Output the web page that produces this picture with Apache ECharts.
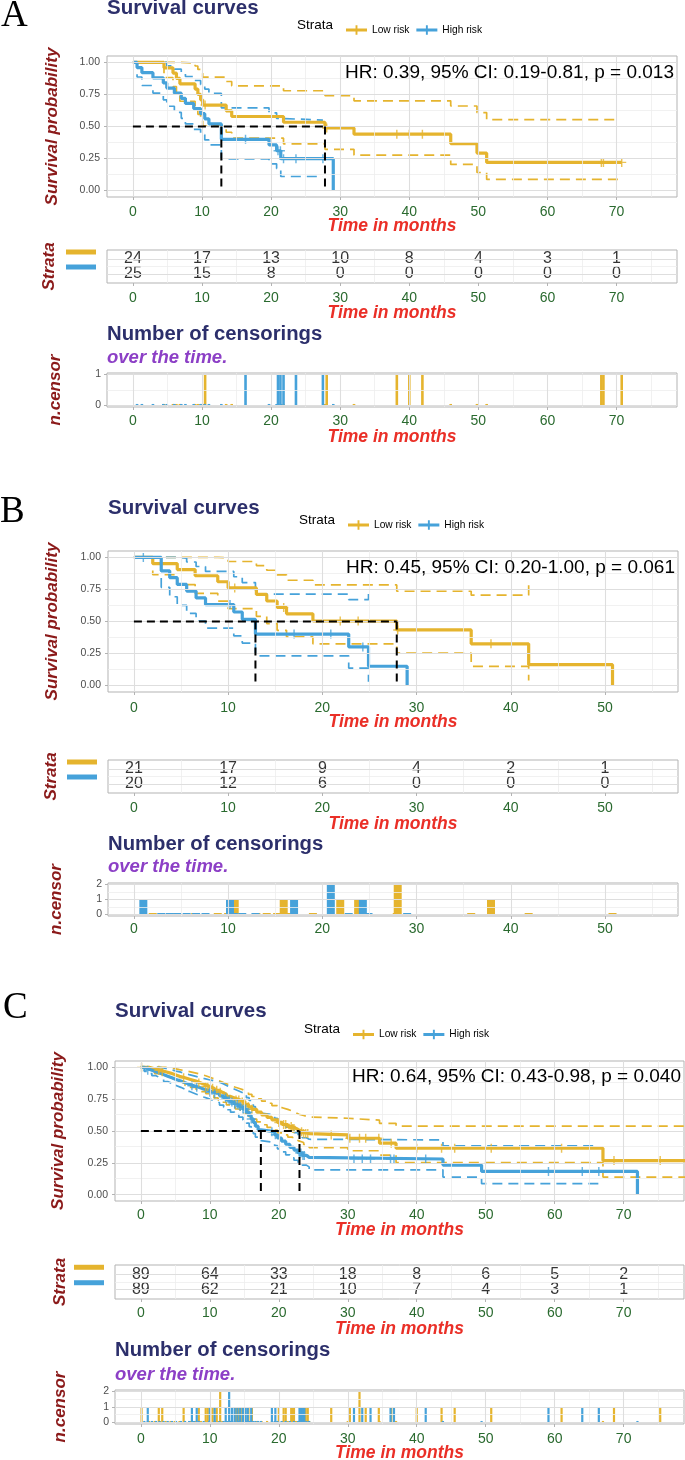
<!DOCTYPE html>
<html><head><meta charset="utf-8">
<script src="https://cdn.jsdelivr.net/npm/echarts@6/dist/echarts.min.js"></script>
<style>html,body{margin:0;padding:0;background:#fff}#c{width:685px;height:1460px}</style>
</head><body><div id="c"></div>
<script>
// ===================== DATA =====================
// Panel A
const A_xTicks = [0,10,20,30,40,50,60,70];
const A_lowSurv  = [[0,1],[4.5,0.958],[5.8,0.917],[6.3,0.875],[6.8,0.833],[9.0,0.792],[9.4,0.75],[9.8,0.708],[10.1,0.667],[13.5,0.622],[14.3,0.578],[21.8,0.533],[27.8,0.489],[32,0.44],[46,0.367],[49.8,0.293],[51.2,0.22],[70.75,0.22]];
const A_lowUpper = [[0,1],[6.8,0.996],[9.0,0.972],[9.4,0.945],[9.8,0.915],[10.1,0.885],[13.5,0.851],[14.3,0.817],[21.8,0.779],[27.8,0.741],[32,0.70],[46,0.66],[49.8,0.609],[51.2,0.554],[70.2,0.554]];
const A_lowLower = [[0,1],[4.5,0.881],[5.8,0.812],[6.3,0.752],[6.8,0.697],[9.0,0.645],[9.4,0.595],[9.8,0.548],[10.1,0.503],[13.5,0.455],[14.3,0.409],[21.8,0.365],[27.8,0.322],[32,0.277],[46,0.204],[49.8,0.141],[51.2,0.087],[70.2,0.087]];
const A_highSurv  = [[0,1],[0.6,0.96],[1.3,0.92],[2.9,0.88],[4.4,0.84],[4.9,0.80],[6.0,0.76],[7.0,0.72],[7.6,0.68],[8.8,0.64],[9.8,0.60],[10.4,0.56],[11.0,0.52],[12.8,0.40],[19.7,0.356],[20.8,0.311],[21.4,0.249],[29,0]];
const A_highUpper = [[0,1],[4.9,0.973],[6.0,0.947],[7.0,0.919],[7.6,0.89],[8.8,0.859],[9.8,0.827],[10.4,0.792],[11.0,0.758],[12.8,0.646],[19.7,0.607],[20.8,0.563],[21.4,0.55],[27.5,0.55]];
const A_highLower = [[0,1],[0.6,0.886],[1.3,0.82],[2.9,0.761],[4.4,0.708],[4.9,0.658],[6.0,0.61],[7.0,0.564],[7.6,0.52],[8.8,0.477],[9.8,0.436],[10.4,0.395],[11.0,0.357],[12.8,0.248],[19.7,0.209],[20.8,0.172],[21.4,0.11],[27.5,0.11]];
const A_lowCens  = [[10.45,1],[28.05,1],[38.2,1],[40.0,1],[41.9,1],[67.8,1],[68.1,1],[70.75,1]];
const A_highCens = [[16.3,1],[21.0,1],[21.35,1],[21.8,1],[23.6,1],[27.5,1]];
const A_medians  = [27.8, 12.8];
const A_riskLow  = [24,17,13,10,8,4,3,1];
const A_riskHigh = [25,15,8,0,0,0,0,0];
const A_censTicks = [0,1];
const A_hr = 'HR: 0.39, 95% CI: 0.19-0.81, p = 0.013';

// Panel B
const B_xTicks = [0,10,20,30,40,50];
const B_lowSurv  = [[0,1],[2.0,0.952],[4.6,0.905],[6.5,0.857],[8.9,0.81],[10.0,0.762],[13.0,0.711],[14.1,0.66],[15.2,0.61],[16.2,0.56],[19.0,0.504],[27.9,0.434],[35.8,0.326],[41.9,0.163],[50.8,0]];
const B_lowUpper = [[0,1],[8.9,0.996],[10.0,0.968],[13.0,0.936],[14.1,0.90],[15.2,0.864],[16.2,0.822],[19.0,0.785],[27.9,0.736],[35.8,0.705],[41.9,0.795]];
const B_lowLower = [[0,1],[2.0,0.865],[4.6,0.788],[6.5,0.72],[8.9,0.659],[10.0,0.60],[13.0,0.54],[14.1,0.484],[15.2,0.431],[16.2,0.38],[19.0,0.326],[27.9,0.253],[35.8,0.15],[41.9,0.04]];
const B_highSurv  = [[0,1],[2.9,0.895],[3.8,0.842],[4.6,0.789],[5.6,0.737],[6.6,0.684],[7.6,0.632],[10.6,0.574],[11.5,0.517],[12.9,0.402],[22.8,0.302],[24.9,0.151],[29.0,0]];
const B_highUpper = [[0,1],[4.6,0.995],[5.6,0.964],[6.6,0.929],[7.6,0.891],[10.6,0.849],[11.5,0.804],[12.9,0.713],[22.8,0.67],[24.9,0.745]];
const B_highLower = [[0,1],[2.9,0.767],[3.8,0.693],[4.6,0.626],[5.6,0.563],[6.6,0.504],[7.6,0.448],[10.6,0.388],[11.5,0.332],[12.9,0.232],[22.8,0.137],[24.9,0.03]];
const B_lowCens  = [[10.7,1],[15.9,1],[21.9,1],[23.8,1],[28.0,2],[37.9,1]];
const B_highCens = [[1.0,1],[10.2,1],[17.0,1],[20.9,2],[24.3,1]];
const B_medians  = [27.9, 12.9];
const B_riskLow  = [21,17,9,4,2,1];
const B_riskHigh = [20,12,6,0,0,0];
const B_censTicks = [0,1,2];
const B_hr = 'HR: 0.45, 95% CI: 0.20-1.00, p = 0.061';

// Panel C
const C_xTicks = [0,10,20,30,40,50,60,70];
const C_lowSurv  = [[0,1],[1.2,0.989],[2.0,0.978],[2.8,0.966],[3.6,0.955],[4.3,0.943],[4.9,0.93],[5.6,0.918],[6.4,0.905],[7.2,0.892],[8.0,0.878],[8.7,0.864],[9.4,0.85],[10.0,0.836],[10.6,0.82],[11.2,0.805],[11.8,0.79],[12.4,0.772],[13.0,0.758],[13.7,0.743],[14.4,0.728],[15.0,0.71],[15.6,0.69],[16.1,0.67],[16.8,0.648],[17.5,0.627],[18.3,0.607],[19.0,0.587],[19.8,0.567],[20.5,0.551],[21.3,0.535],[22.0,0.52],[22.5,0.507],[22.9,0.495],[23.6,0.48],[24.4,0.469],[30.0,0.443],[34.6,0.404],[37.0,0.365],[67.0,0.268],[80,0.268]];
const C_lowUpper = [[0,1],[2.8,1.0],[3.6,0.995],[4.3,0.99],[4.9,0.982],[5.6,0.974],[6.4,0.965],[7.2,0.955],[8.0,0.945],[8.7,0.934],[9.4,0.922],[10.0,0.91],[10.6,0.897],[11.2,0.884],[11.8,0.871],[12.4,0.856],[13.0,0.844],[13.7,0.832],[14.4,0.82],[15.0,0.805],[15.6,0.788],[16.1,0.771],[16.8,0.752],[17.5,0.735],[18.3,0.718],[19.0,0.70],[19.8,0.683],[20.5,0.67],[21.3,0.657],[22.0,0.643],[22.5,0.632],[22.9,0.622],[23.6,0.61],[24.4,0.60],[30.0,0.585],[34.6,0.56],[37.0,0.539],[80,0.539]];
const C_lowLower = [[0,1],[1.2,0.968],[2.0,0.951],[2.8,0.935],[3.6,0.92],[4.3,0.905],[4.9,0.889],[5.6,0.874],[6.4,0.858],[7.2,0.842],[8.0,0.826],[8.7,0.81],[9.4,0.794],[10.0,0.778],[10.6,0.76],[11.2,0.743],[11.8,0.726],[12.4,0.706],[13.0,0.69],[13.7,0.673],[14.4,0.656],[15.0,0.636],[15.6,0.615],[16.1,0.594],[16.8,0.571],[17.5,0.549],[18.3,0.528],[19.0,0.507],[19.8,0.486],[20.5,0.469],[21.3,0.452],[22.0,0.436],[22.5,0.422],[22.9,0.41],[23.6,0.394],[24.4,0.37],[30.0,0.345],[34.6,0.31],[37.0,0.252],[67.0,0.138],[80,0.138]];
const C_highSurv  = [[0,1],[0.5,0.989],[1.0,0.978],[1.6,0.966],[2.2,0.955],[2.7,0.943],[3.3,0.93],[3.9,0.918],[4.5,0.905],[5.1,0.893],[5.8,0.88],[6.4,0.867],[7.0,0.855],[7.7,0.843],[8.4,0.83],[9.1,0.817],[9.9,0.805],[10.7,0.792],[11.4,0.776],[12.0,0.76],[12.5,0.743],[13.0,0.727],[13.6,0.71],[14.2,0.692],[14.8,0.672],[15.3,0.648],[15.7,0.622],[16.0,0.595],[16.3,0.567],[16.6,0.538],[17.0,0.51],[17.4,0.495],[19.4,0.47],[19.8,0.445],[20.4,0.42],[21.0,0.396],[21.6,0.372],[22.2,0.35],[22.8,0.328],[23.4,0.308],[24.0,0.293],[24.4,0.28],[43.8,0.232],[49.4,0.182],[72.0,0]];
const C_highUpper = [[0,1],[2.2,1.0],[2.7,0.995],[3.3,0.988],[3.9,0.98],[4.5,0.971],[5.1,0.962],[5.8,0.953],[6.4,0.943],[7.0,0.933],[7.7,0.923],[8.4,0.913],[9.1,0.903],[9.9,0.893],[10.7,0.883],[11.4,0.869],[12.0,0.856],[12.5,0.842],[13.0,0.828],[13.6,0.814],[14.2,0.799],[14.8,0.782],[15.3,0.762],[15.7,0.74],[16.0,0.717],[16.3,0.692],[16.6,0.667],[17.0,0.641],[17.4,0.627],[19.4,0.60],[19.8,0.577],[20.4,0.553],[21.0,0.53],[21.6,0.507],[22.2,0.487],[22.8,0.466],[23.4,0.447],[24.0,0.435],[24.4,0.43],[43.8,0.383],[66.3,0.383]];
const C_highLower = [[0,1],[0.5,0.968],[1.0,0.951],[1.6,0.935],[2.2,0.92],[2.7,0.905],[3.3,0.889],[3.9,0.874],[4.5,0.858],[5.1,0.843],[5.8,0.828],[6.4,0.812],[7.0,0.797],[7.7,0.782],[8.4,0.767],[9.1,0.752],[9.9,0.737],[10.7,0.722],[11.4,0.704],[12.0,0.686],[12.5,0.667],[13.0,0.648],[13.6,0.629],[14.2,0.609],[14.8,0.587],[15.3,0.562],[15.7,0.535],[16.0,0.508],[16.3,0.48],[16.6,0.452],[17.0,0.425],[17.4,0.41],[19.4,0.385],[19.8,0.36],[20.4,0.336],[21.0,0.313],[21.6,0.29],[22.2,0.27],[22.8,0.25],[23.4,0.232],[24.0,0.218],[24.4,0.195],[43.8,0.138],[49.4,0.086],[66.5,0.086]];
const C_lowCens  = [[0.1,1],[2.6,1],[3.1,1],[6.2,1],[8.4,1],[9.4,1],[9.7,1],[10.4,1],[11.0,1],[11.5,2],[13.8,1],[14.2,1],[14.7,1],[15.1,1],[15.6,1],[16.1,1],[20.0,1],[20.7,1],[21.0,1],[21.8,1],[22.0,1],[22.2,1],[23.3,1],[23.6,1],[23.9,1],[24.2,1],[27.6,1],[30.3,1],[31.7,2],[32.6,1],[34.5,1],[36.3,1],[40.0,1],[43.6,1],[45.5,1],[50.8,1],[61.0,1],[68.6,1],[75.3,1]];
const C_highCens = [[1.0,1],[7.4,1],[8.1,1],[10.0,1],[10.7,1],[12.3,1],[12.8,2],[13.2,1],[13.6,1],[14.0,1],[14.4,1],[14.8,1],[15.2,1],[15.5,1],[16.0,1],[19.0,1],[19.5,1],[23.0,1],[23.2,1],[23.5,1],[23.7,1],[30.9,1],[32.1,1],[33.3,1],[36.2,1],[36.7,1],[41.3,1],[59.1,1],[64.0,1],[66.4,1]];
const C_medians  = [23.0, 17.4];
const C_riskLow  = [89,64,33,18,8,6,5,2];
const C_riskHigh = [89,62,21,10,7,4,3,1];
const C_censTicks = [0,1,2];
const C_hr = 'HR: 0.64, 95% CI: 0.43-0.98, p = 0.040';

const SURV_Y_TICKS = [0,0.25,0.5,0.75,1];
const STRATA = ['Low risk','High risk'];

// ===================== STYLE / LAYOUT =====================
const FONT = '"Liberation Sans", Arial, sans-serif';
const SERIF = '"Liberation Serif", "Times New Roman", serif';
const YEL = '#E5B42E', BLU = '#46A2DA';
const NAVY = '#2c2f6b', DARKRED = '#8b1a1a', GREEN = '#2a6a2f', RED = '#ea2f27', PURPLE = '#8c3fc6', GRAYTXT = '#4d4d4d';
const BORDER = '#b3b3b3', GMAJ = '#dedede', GMIN = '#eeeeee';
const PLUS = 'path://M0,4.2H10V5.8H0Z M4.2,0H5.8V10H4.2Z';
const LEG_ICON = 'path://M0,3.5H22V6.5H0Z M10,0H12V10H10Z';

const PANELS = [
  {letter:'A', letterPos:[1,16], titleY:8.5, legend:[341,25], hrY:73, left:107, right:8,
   surv:[56,141], risk:[250,33], cens:[373,34], survLabM:8, riskLabM:8, censLabM:7,
   xt:[226,313,437], censTitle:[334,358], yt:[52,49,55], xMin:-3.75, xMax:78.75, barW:2.6,
   xTicks:A_xTicks, lowSurv:A_lowSurv, lowUp:A_lowUpper, lowLo:A_lowLower, highSurv:A_highSurv, highUp:A_highUpper, highLo:A_highLower,
   lowCens:A_lowCens, highCens:A_highCens, medians:A_medians, riskLow:A_riskLow, riskHigh:A_riskHigh, censTicks:A_censTicks, hr:A_hr},
  {letter:'B', letterPos:[0,512], titleY:508, legend:[343,520], hrY:568, left:108, right:7,
   surv:[551,141], risk:[760,33], cens:[883,33], survLabM:9, riskLabM:8, censLabM:6,
   xt:[722,824,null], censTitle:[844,867], yt:[52,51,56], xMin:-2.75, xMax:57.75, barW:8,
   xTicks:B_xTicks, lowSurv:B_lowSurv, lowUp:B_lowUpper, lowLo:B_lowLower, highSurv:B_highSurv, highUp:B_highUpper, highLo:B_highLower,
   lowCens:B_lowCens, highCens:B_highCens, medians:B_medians, riskLow:B_riskLow, riskHigh:B_riskHigh, censTicks:B_censTicks, hr:B_hr},
  {letter:'C', letterPos:[3,1008.5], titleY:1011, legend:[348,1029.5], hrY:1077, left:115, right:1,
   surv:[1061,140], risk:[1265,34], cens:[1390,34], survLabM:7, riskLabM:7, censLabM:8,
   xt:[1230,1329,1453], censTitle:[1350,1375], yt:[58,60,60], xMin:-3.75, xMax:78.75, barW:2.2,
   xTicks:C_xTicks, lowSurv:C_lowSurv, lowUp:C_lowUpper, lowLo:C_lowLower, highSurv:C_highSurv, highUp:C_highUpper, highLo:C_highLower,
   lowCens:C_lowCens, highCens:C_highCens, medians:C_medians, riskLow:C_riskLow, riskHigh:C_riskHigh, censTicks:C_censTicks, hr:C_hr}
];

function stepAt(arr, t){ let v = arr[0][1]; for (const p of arr){ if (p[0] <= t) v = p[1]; else break; } return v; }
function eventsOf(arr){ const r=[]; for(let i=1;i<arr.length;i++){ if(arr[i][1]!==arr[i-1][1]) r.push([arr[i][0],0]); } return r; }

const grids=[], xAxes=[], yAxes=[], series=[], graphics=[], legends=[];

function txt(text, x, y, font, color, align, rot){
  return {type:'text', x, y, rotation: rot||0, silent:true, z:10,
    style:{text, font, fill:color, align:align||'left', verticalAlign:'middle'}};
}

PANELS.forEach((P, pi) => {
  const g0 = pi*3;
  const mkGrid = (tb) => ({left:P.left, right:P.right, top:tb[0], height:tb[1], show:true,
    borderColor:BORDER, borderWidth:1, backgroundColor:'#fff', containLabel:false});
  grids.push(mkGrid(P.surv), mkGrid(P.risk), mkGrid(P.cens));
  const xMinor = P.xTicks.map(v=>v+5).filter(v=>v<P.xMax);

  const mkX = (gi, margin) => ({gridIndex:gi, type:'value', min:P.xMin, max:P.xMax,
    axisLine:{show:false, onZero:false},
    axisTick:{show:true, customValues:P.xTicks, length:3, lineStyle:{color:BORDER}},
    axisLabel:{customValues:P.xTicks, color:GREEN, fontSize:14, fontFamily:FONT, margin},
    splitLine:{show:false}});
  xAxes.push(mkX(g0, P.survLabM), mkX(g0+1, P.riskLabM), mkX(g0+2, P.censLabM));

  yAxes.push({gridIndex:g0, type:'value', min:-0.05, max:1.05,
    axisLine:{show:false, onZero:false},
    axisTick:{show:true, customValues:SURV_Y_TICKS, length:3, lineStyle:{color:BORDER}},
    axisLabel:{customValues:SURV_Y_TICKS, formatter:v=>v.toFixed(2), color:GRAYTXT, fontSize:10.5, fontFamily:FONT, margin:7},
    splitLine:{show:false}});
  yAxes.push({gridIndex:g0+1, type:'value', min:0.4, max:2.6,
    axisLine:{show:false, onZero:false}, axisTick:{show:false},
    axisLabel:{customValues:[1,2], formatter:v=> v===2 ? '{lo| }' : '{hi| }', margin:11, padding:[0,0,14,0],
      rich:{lo:{backgroundColor:YEL, width:30, height:5, fontSize:1}, hi:{backgroundColor:BLU, width:30, height:5, fontSize:1}}},
    splitLine:{show:false}});
  const cmax = P.censTicks[P.censTicks.length-1];
  yAxes.push({gridIndex:g0+2, type:'value', min:-0.05*cmax, max:1.05*cmax,
    axisLine:{show:false, onZero:false},
    axisTick:{show:true, customValues:P.censTicks, length:3, lineStyle:{color:BORDER}},
    axisLabel:{customValues:P.censTicks, color:GRAYTXT, fontSize:10.5, fontFamily:FONT, margin:6},
    splitLine:{show:false}});

  // gridlines via markLine
  const gl = (xi, vMaj, vMin, hMaj, hMin) => {
    const d = [];
    vMin.forEach(v=>d.push({xAxis:v, lineStyle:{color:GMIN, width:0.8, type:'solid'}}));
    hMin.forEach(v=>d.push({yAxis:v, lineStyle:{color:GMIN, width:0.8, type:'solid'}}));
    vMaj.forEach(v=>d.push({xAxis:v, lineStyle:{color:GMAJ, width:1.1, type:'solid'}}));
    hMaj.forEach(v=>d.push({yAxis:v, lineStyle:{color:GMAJ, width:1.1, type:'solid'}}));
    series.push({type:'line', name:'grid'+xi, xAxisIndex:xi, yAxisIndex:xi, data:[[P.xMin, -5]], symbol:'none', showSymbol:false,
      lineStyle:{width:0}, silent:true, z:1, animation:false,
      markLine:{silent:true, symbol:['none','none'], label:{show:false}, animation:false, data:d}});
  };
  const cMinor = P.censTicks.slice(1).map(v=>v-0.5);
  gl(g0, P.xTicks, xMinor, SURV_Y_TICKS, [0.125,0.375,0.625,0.875]);
  gl(g0+1, [], xMinor, [1,2], [1.5]);
  gl(g0+2, P.xTicks, xMinor, P.censTicks, cMinor);

  // survival curves
  const stepLine = (name, data, color, dashed, z) => ({type:'line', name, xAxisIndex:g0, yAxisIndex:g0, data, step:'end',
    symbol:'none', showSymbol:false, silent:true, animation:false, z,
    lineStyle:{color, width: dashed?1.7:3.2, type: dashed?[10,6]:'solid', cap:'butt'}, itemStyle:{color}});
  series.push(stepLine('ciLowUp'+pi, P.lowUp, YEL, true, 2));
  series.push(stepLine('ciLowLo'+pi, P.lowLo, YEL, true, 2));
  series.push(stepLine('ciHighUp'+pi, P.highUp, BLU, true, 2));
  series.push(stepLine('ciHighLo'+pi, P.highLo, BLU, true, 2));
  series.push(stepLine(STRATA[0], P.lowSurv, YEL, false, 3));
  series.push(stepLine(STRATA[1], P.highSurv, BLU, false, 3));
  // censor marks
  const marks = (name, cens, surv, color) => ({type:'scatter', name, xAxisIndex:g0, yAxisIndex:g0,
    data: cens.map(c=>[c[0], stepAt(surv, c[0])]), symbol:PLUS, symbolSize:9, silent:true, animation:false, z:4,
    itemStyle:{color}});
  series.push(marks('mkLow'+pi, P.lowCens, P.lowSurv, YEL));
  series.push(marks('mkHigh'+pi, P.highCens, P.highSurv, BLU));
  // median lines
  const medMax = Math.max(...P.medians);
  const medStyle = {color:'#000', width:2, type:[8,5]};
  series.push({type:'line', name:'med0_'+pi, xAxisIndex:g0, yAxisIndex:g0, data:[[0,0.5],[medMax,0.5]], symbol:'none', silent:true, animation:false, z:5, lineStyle:medStyle});
  P.medians.forEach((m,k)=>series.push({type:'line', name:'med'+(k+1)+'_'+pi, xAxisIndex:g0, yAxisIndex:g0, data:[[m,0.5],[m,0]], symbol:'none', silent:true, animation:false, z:5, lineStyle:medStyle}));

  // risk table
  const riskData = [];
  P.xTicks.forEach((t,i)=>{ riskData.push([t,2,P.riskLow[i]]); riskData.push([t,1,P.riskHigh[i]]); });
  series.push({type:'scatter', name:'risk'+pi, xAxisIndex:g0+1, yAxisIndex:g0+1, data:riskData, symbolSize:1,
    itemStyle:{color:'rgba(0,0,0,0)'}, silent:true, animation:false, z:4,
    label:{show:true, position:'inside', formatter:p=>String(p.value[2]), color:'#000', fontSize:16, fontFamily:FONT}});

  // censor bars
  const bars = (name, cens, surv, color) => ({type:'bar', name, xAxisIndex:g0+2, yAxisIndex:g0+2,
    data: eventsOf(surv).concat(cens), barWidth:P.barW, barGap:'-100%', barMinHeight:1.5, silent:true, animation:false, z:3,
    itemStyle:{color}});
  series.push(bars('cbLow'+pi, P.lowCens, P.lowSurv, YEL));
  series.push(bars('cbHigh'+pi, P.highCens, P.highSurv, BLU));

  // legend
  legends.push({left:P.legend[0], top:P.legend[1]-5, itemWidth:21, itemHeight:10, itemGap:7, selectedMode:false,
    icon:LEG_ICON, textStyle:{fontSize:10.2, color:'#000', fontFamily:FONT},
    data:[{name:STRATA[0], itemStyle:{color:YEL, borderWidth:0}}, {name:STRATA[1], itemStyle:{color:BLU, borderWidth:0}}]});

  // texts
  const W = 685;
  const gL = P.left, gR = W - P.right, gC = (gL+gR)/2;
  graphics.push(txt(P.letter, P.letterPos[0], P.letterPos[1], '37px '+SERIF, '#000', 'left'));
  graphics.push(txt('Survival curves', gL, P.titleY, 'bold 20.5px '+FONT, NAVY, 'left'));
  graphics.push(txt('Strata', P.legend[0]-8, P.legend[1], '13.5px '+FONT, '#000', 'right'));
  graphics.push(txt(P.hr, gR-3, P.hrY, '19px '+FONT, '#000', 'right'));
  P.xt.forEach(y=>{ if (y!==null) graphics.push(txt('Time in months', gC, y, 'italic bold 17.5px '+FONT, RED, 'center')); });
  graphics.push(txt('Number of censorings', gL, P.censTitle[0], 'bold 20.3px '+FONT, NAVY, 'left'));
  graphics.push(txt('over the time.', gL, P.censTitle[1], 'italic bold 18.5px '+FONT, PURPLE, 'left'));
  const yc = [P.surv[0]+P.surv[1]/2, P.risk[0]+P.risk[1]/2, P.cens[0]+P.cens[1]/2];
  graphics.push(txt('Survival probability', P.yt[0], yc[0], 'italic bold 17px '+FONT, DARKRED, 'center', Math.PI/2));
  graphics.push(txt('Strata', P.yt[1], yc[1], 'italic bold 17px '+FONT, DARKRED, 'center', Math.PI/2));
  graphics.push(txt('n.censor', P.yt[2], yc[2], 'italic bold 17px '+FONT, DARKRED, 'center', Math.PI/2));
});

const chart = echarts.init(document.getElementById('c'), null, {renderer:'canvas', width:685, height:1460});
chart.setOption({
  animation:false, backgroundColor:'#fff',
  textStyle:{fontFamily:FONT},
  grid:grids, xAxis:xAxes, yAxis:yAxes, legend:legends, series, graphic:graphics
});
</script></body></html>
